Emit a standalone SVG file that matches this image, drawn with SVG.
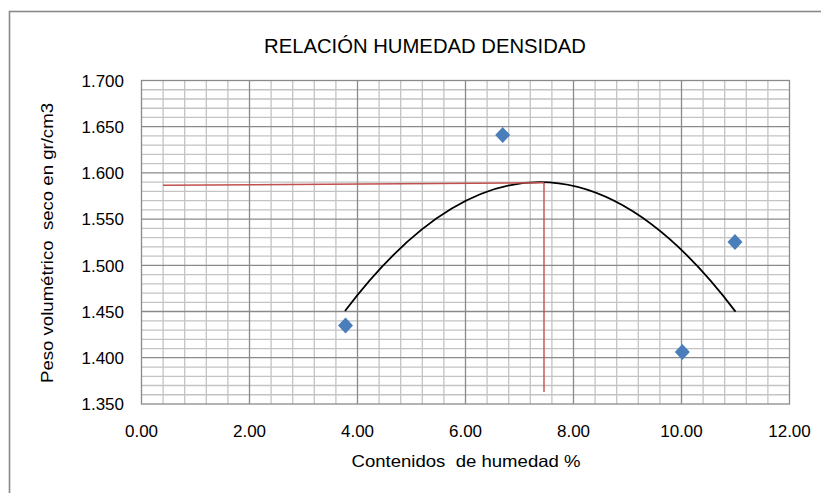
<svg xmlns="http://www.w3.org/2000/svg" width="821" height="493" viewBox="0 0 821 493">
<style>
text{font-family:"Liberation Sans",Arial,sans-serif;fill:#000}
.tick{font-size:17px}
.ylab{text-anchor:end}
.xlab{text-anchor:middle}
.minor{stroke:#c4c4c4;stroke-width:1.3;fill:none}
.major{stroke:#8a8a8a;stroke-width:1.3;fill:none}
.pt{fill:#4a7ebb}
.red{stroke:#c0504d;stroke-width:1.4;fill:none}
</style>
<rect width="821" height="493" fill="#fff"/>
<rect x="9.5" y="11.5" width="830" height="500" fill="none" stroke="#8a8a8a" stroke-width="1.6"/>
<g id="title"><text x="425" y="53" font-size="21" text-anchor="middle" textLength="322" lengthAdjust="spacingAndGlyphs">RELACIÓN HUMEDAD DENSIDAD</text></g>
<g id="grid">
<path class="minor" d="M163.1 80.5V404M184.7 80.5V404M206.3 80.5V404M227.9 80.5V404M271.1 80.5V404M292.7 80.5V404M314.3 80.5V404M335.9 80.5V404M379.1 80.5V404M400.7 80.5V404M422.3 80.5V404M443.9 80.5V404M487.1 80.5V404M508.7 80.5V404M530.3 80.5V404M551.9 80.5V404M595.1 80.5V404M616.7 80.5V404M638.3 80.5V404M659.9 80.5V404M703.1 80.5V404M724.7 80.5V404M746.3 80.5V404M767.9 80.5V404
M141.5 89.74H789.5M141.5 98.99H789.5M141.5 108.23H789.5M141.5 117.47H789.5M141.5 135.96H789.5M141.5 145.2H789.5M141.5 154.44H789.5M141.5 163.69H789.5M141.5 182.17H789.5M141.5 191.42H789.5M141.5 200.66H789.5M141.5 209.9H789.5M141.5 228.39H789.5M141.5 237.63H789.5M141.5 246.87H789.5M141.5 256.12H789.5M141.5 274.6H789.5M141.5 283.85H789.5M141.5 293.09H789.5M141.5 302.33H789.5M141.5 320.82H789.5M141.5 330.06H789.5M141.5 339.3H789.5M141.5 348.55H789.5M141.5 367.03H789.5M141.5 376.28H789.5M141.5 385.52H789.5M141.5 394.76H789.5"/>
<path class="major" d="M249.5 80.5V404M357.5 80.5V404M465.5 80.5V404M573.5 80.5V404M681.5 80.5V404M141.5 126.7H789.5M141.5 172.9H789.5M141.5 219.1H789.5M141.5 265.3H789.5M141.5 311.5H789.5M141.5 357.7H789.5"/>
<rect class="major" x="141.5" y="80.5" width="648" height="323.5"/>
</g>
<g id="y-axis">
<text class="tick ylab" x="124" y="86.7">1.700</text>
<text class="tick ylab" x="124" y="132.9">1.650</text>
<text class="tick ylab" x="124" y="179.1">1.600</text>
<text class="tick ylab" x="124" y="225.3">1.550</text>
<text class="tick ylab" x="124" y="271.5">1.500</text>
<text class="tick ylab" x="124" y="317.7">1.450</text>
<text class="tick ylab" x="124" y="363.9">1.400</text>
<text class="tick ylab" x="124" y="410.2">1.350</text>
<text x="53" y="243" font-size="17" text-anchor="middle" transform="rotate(-90 53 243)" textLength="280" lengthAdjust="spacingAndGlyphs" style="white-space:pre">Peso volumétrico  seco en gr/cm3</text>
</g>
<g id="x-axis">
<text class="tick xlab" x="141.5" y="437">0.00</text>
<text class="tick xlab" x="249.5" y="437">2.00</text>
<text class="tick xlab" x="357.5" y="437">4.00</text>
<text class="tick xlab" x="465.5" y="437">6.00</text>
<text class="tick xlab" x="573.5" y="437">8.00</text>
<text class="tick xlab" x="681.5" y="437">10.00</text>
<text class="tick xlab" x="789.5" y="437">12.00</text>
<text x="466" y="467" font-size="16.5" text-anchor="middle" textLength="229" lengthAdjust="spacingAndGlyphs" style="white-space:pre">Contenidos  de humedad %</text>
</g>
<g id="connectors">
<path id="trend" d="M345 311 Q540.25 53 735.5 311.6" fill="none" stroke="#000" stroke-width="1.8"/>
<path id="ref-h" class="red" d="M163 185.3L544 182.8"/>
<path id="ref-v" class="red" d="M544 182.8V392"/>
</g>
<g id="points">
<path id="p1" class="pt" d="M345.5 317.5l7.5 8-7.5 8-7.5-8z"/>
<path id="p2" class="pt" d="M502.7 127l7.5 8-7.5 8-7.5-8z"/>
<path id="p3" class="pt" d="M682.3 344l7.5 8-7.5 8-7.5-8z"/>
<path id="p4" class="pt" d="M735 234l7.5 8-7.5 8-7.5-8z"/>
</g>
</svg>
